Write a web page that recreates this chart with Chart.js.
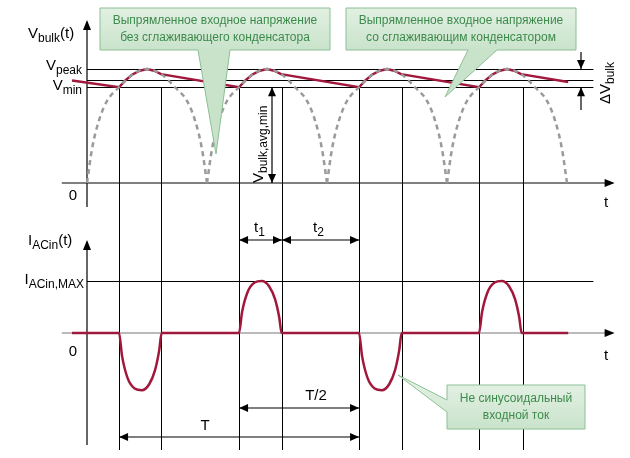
<!DOCTYPE html>
<html><head><meta charset="utf-8">
<script src="https://cdn.jsdelivr.net/npm/chart.js@4.4.1/dist/chart.umd.min.js"></script>
<style>html,body{margin:0;background:#fff}#wrap{width:630px;height:458px}</style>
</head><body><div id="wrap"><canvas id="c"></canvas></div>
<script>
// time in ms (50 Hz mains, half period 10 ms)
const archStarts = [0, 10, 20, 30];
// one rectified half-wave
const archT = [0, 0.42, 1, 1.67, 2.67, 3.75, 5, 6.25, 7.33, 8.33, 9, 9.58, 10];
const archV = [0, 0.3, 0.55, 0.72, 0.84, 0.95, 1, 0.95, 0.84, 0.72, 0.55, 0.3, 0];
// charging part of the smoothed voltage (relative to each half-period)
const chargeT = [2.67, 3.2, 3.75, 4.4, 5, 5.6, 6.17];
const chargeV = [0.84, 0.9, 0.95, 0.985, 1, 0.985, 0.955];
const vStart = { t: -1.25, v: 0.9 };
const vEnd = { t: 40.1, v: 0.886 };
// input current pulse
const pulseT = [0, 0.25, 0.7, 1.3, 1.9, 2.5, 3.0, 3.35, 3.55];
const pulseV = [0, 0.4, 0.78, 0.97, 1, 0.9, 0.65, 0.3, 0];
const pulseStarts = [2.67, 12.67, 22.67, 32.67];
const pulseSign = [-1.1, 1, -1.1, 1];
const iStart = -1.25, iEnd = 40.1;
const vMinLevel = 0.84, vMidLevel = 0.9;
const gridTimes = [2.67, 6.17, 12.67, 16.25, 22.67, 26.25, 32.67, 36.33];

const RED = '#a0183c', GREY = '#9a9a9a';
const datasets = [];
archStarts.forEach(s => datasets.push({
  yAxisID: 'yV', data: archT.map((t, i) => ({ x: s + t, y: archV[i] })),
  borderColor: GREY, borderDash: [5, 4], borderWidth: 2.5, cubicInterpolationMode: 'monotone', pointRadius: 0
}));
const vData = [{ x: vStart.t, y: vStart.v }];
archStarts.forEach(s => chargeT.forEach((t, i) => vData.push({ x: s + t, y: chargeV[i] })));
vData.push({ x: vEnd.t, y: vEnd.v });
datasets.push({ yAxisID: 'yV', data: vData, borderColor: RED, borderWidth: 2.5, tension: 0, pointRadius: 0 });
const iData = [{ x: iStart, y: 0 }];
pulseStarts.forEach((s, k) => pulseT.forEach((t, i) => iData.push({ x: s + t, y: pulseV[i] * pulseSign[k] })));
iData.push({ x: iEnd, y: 0 });
datasets.push({ yAxisID: 'yI', data: iData, borderColor: RED, borderWidth: 2.5, cubicInterpolationMode: 'monotone', pointRadius: 0 });

function sub(ctx, x, y, main, s, size, align) {
  ctx.font = size + 'px "Liberation Sans", Arial';
  const w1 = ctx.measureText(main).width;
  ctx.font = Math.round(size * 0.8) + 'px "Liberation Sans", Arial';
  const w2 = ctx.measureText(s).width;
  let x0 = align === 'right' ? x - w1 - w2 : x;
  ctx.textAlign = 'left'; ctx.textBaseline = 'alphabetic';
  ctx.font = size + 'px "Liberation Sans", Arial';
  ctx.fillText(main, x0, y);
  ctx.font = Math.round(size * 0.8) + 'px "Liberation Sans", Arial';
  ctx.fillText(s, x0 + w1, y + size * 0.28);
  return x0 + w1 + w2;
}
function arrowHead(ctx, x, y, dx, dy, len = 9, w = 4) {
  const n = Math.hypot(dx, dy); dx /= n; dy /= n;
  ctx.beginPath(); ctx.moveTo(x, y);
  ctx.lineTo(x - dx * len - dy * w, y - dy * len + dx * w);
  ctx.lineTo(x - dx * len + dy * w, y - dy * len - dx * w);
  ctx.closePath(); ctx.fill();
}
function dimArrow(ctx, x1, x2, y) {
  ctx.beginPath(); ctx.moveTo(x1, y); ctx.lineTo(x2, y); ctx.stroke();
  arrowHead(ctx, x1, y, -1, 0); arrowHead(ctx, x2, y, 1, 0);
}
function callout(ctx, x, y, w, h, px, py, bx1, bx2, lines) {
  const g = ctx.createLinearGradient(0, y, 0, y + h);
  g.addColorStop(0, '#e2f0e2'); g.addColorStop(1, '#c9e3cb');
  ctx.fillStyle = g; ctx.strokeStyle = '#8cbf94'; ctx.lineWidth = 1;
  ctx.beginPath();
  ctx.moveTo(x, y); ctx.lineTo(x + w, y); ctx.lineTo(x + w, y + h);
  if (py > y + h) { ctx.lineTo(bx2, y + h); ctx.lineTo(px, py); ctx.lineTo(bx1, y + h); ctx.lineTo(x, y + h); ctx.closePath(); }
  else { ctx.lineTo(x, y + h); ctx.lineTo(x, bx2); ctx.lineTo(px, py); ctx.lineTo(x, bx1); ctx.closePath(); }
  ctx.fill(); ctx.stroke();
  ctx.fillStyle = '#3d8a4c'; ctx.font = '12px "Liberation Sans", Arial'; ctx.textAlign = 'center'; ctx.textBaseline = 'middle';
  lines.forEach((l, i) => ctx.fillText(l, x + w / 2, y + h / 2 + (i - (lines.length - 1) / 2) * 17));
}

const overlay = {
  id: 'overlay',
  beforeDatasetsDraw(chart) {
    const ctx = chart.ctx, X = chart.scales.x, V = chart.scales.yV, I = chart.scales.yI;
    ctx.save(); ctx.strokeStyle = '#000'; ctx.lineWidth = 1;
    const xa = X.getPixelForValue(0), xr = X.getPixelForValue(42.2);
    [1, vMidLevel, vMinLevel].forEach(v => { const y = Math.round(V.getPixelForValue(v)) + 0.5; ctx.beginPath(); ctx.moveTo(xa, y); ctx.lineTo(xr, y); ctx.stroke(); });
    const yIm = Math.round(I.getPixelForValue(1)) + 0.5;
    ctx.beginPath(); ctx.moveTo(xa, yIm); ctx.lineTo(xr, yIm); ctx.stroke();
    const yTop = V.getPixelForValue(vMinLevel);
    gridTimes.forEach(t => { const x = Math.round(X.getPixelForValue(t)) + 0.5; ctx.beginPath(); ctx.moveTo(x, yTop); ctx.lineTo(x, 450); ctx.stroke(); });
    // axes
    ctx.strokeStyle = '#000'; ctx.fillStyle = '#000'; ctx.lineWidth = 1.2;
    const xl = X.getPixelForValue(-2.1), xe = X.getPixelForValue(43.8);
    const y0 = V.getPixelForValue(0);
    ctx.beginPath(); ctx.moveTo(xl, y0); ctx.lineTo(xe, y0); ctx.stroke(); arrowHead(ctx, xe + 2, y0, 1, 0, 10, 4);
    ctx.beginPath(); ctx.moveTo(xa, 207); ctx.lineTo(xa, 22); ctx.stroke(); arrowHead(ctx, xa, 20, 0, -1, 10, 4);
    const yi0 = I.getPixelForValue(0);
    ctx.strokeStyle = '#777';
    ctx.beginPath(); ctx.moveTo(xl, yi0); ctx.lineTo(xe, yi0); ctx.stroke(); ctx.fillStyle = '#000'; arrowHead(ctx, xe + 2, yi0, 1, 0, 10, 4);
    ctx.strokeStyle = '#000';
    ctx.beginPath(); ctx.moveTo(xa, 445); ctx.lineTo(xa, 242); ctx.stroke(); arrowHead(ctx, xa, 240, 0, -1, 10, 4);
    ctx.restore();
  },
  afterDatasetsDraw(chart) {
    const ctx = chart.ctx, X = chart.scales.x, V = chart.scales.yV;
    ctx.save(); ctx.fillStyle = '#000'; ctx.strokeStyle = '#000'; ctx.lineWidth = 1.2;
    const px = t => X.getPixelForValue(t);
    // labels
    const e = sub(ctx, 28, 38, 'V', 'bulk', 15); ctx.font = '15px "Liberation Sans", Arial'; ctx.fillText('(t)', e, 38);
    sub(ctx, 82, 70, 'V', 'peak', 15, 'right');
    sub(ctx, 82, 90, 'V', 'min', 15, 'right');
    ctx.font = '15px "Liberation Sans", Arial'; ctx.textAlign = 'center';
    ctx.fillText('0', 73, 200); ctx.fillText('t', 606, 207); ctx.fillText('0', 73, 356); ctx.fillText('t', 606, 360);
    const e2 = sub(ctx, 28, 245, 'I', 'ACin', 15); ctx.font = '15px "Liberation Sans", Arial'; ctx.textAlign = 'left'; ctx.fillText('(t)', e2, 245);
    sub(ctx, 84, 284, 'I', 'ACin,MAX', 15, 'right');
    // dimension arrows
    dimArrow(ctx, px(12.67), px(16.25), 240); dimArrow(ctx, px(16.25), px(22.67), 240);
    dimArrow(ctx, px(12.67), px(22.67), 408); dimArrow(ctx, px(2.67), px(22.67), 437);
    sub(ctx, 254, 232, 't', '1', 15); sub(ctx, 313, 232, 't', '2', 15);
    ctx.font = '15px "Liberation Sans", Arial'; ctx.textAlign = 'center';
    ctx.fillText('T/2', 316, 400); ctx.fillText('T', 205, 430);
    // Vbulk,avg,min
    const xv = 272, ya = V.getPixelForValue(vMinLevel), yb = V.getPixelForValue(0);
    ctx.beginPath(); ctx.moveTo(xv, ya); ctx.lineTo(xv, yb); ctx.stroke();
    arrowHead(ctx, xv, ya, 0, -1); arrowHead(ctx, xv, yb, 0, 1);
    ctx.save(); ctx.translate(263, 183); ctx.rotate(-Math.PI / 2); sub(ctx, 0, 0, 'V', 'bulk,avg,min', 15); ctx.restore();
    // delta Vbulk
    const xd = 581, yp = V.getPixelForValue(1), ym = V.getPixelForValue(vMinLevel);
    ctx.beginPath(); ctx.moveTo(xd, 52); ctx.lineTo(xd, yp); ctx.stroke(); arrowHead(ctx, xd, yp, 0, 1);
    ctx.beginPath(); ctx.moveTo(xd, 110); ctx.lineTo(xd, ym); ctx.stroke(); arrowHead(ctx, xd, ym, 0, -1);
    ctx.save(); ctx.translate(610, 104); ctx.rotate(-Math.PI / 2); sub(ctx, 0, 0, '\u0394V', 'bulk', 15); ctx.restore();
    // callouts
    callout(ctx, 100, 8, 230, 42, 216, 154, 198, 230, ['Выпрямленное входное напряжение', 'без сглаживающего конденсатора']);
    callout(ctx, 346, 8, 230, 42, 445, 97, 468, 497, ['Выпрямленное входное напряжение', 'со сглаживающим конденсатором']);
    callout(ctx, 447, 385, 138, 44, 398, 375, 400, 412, ['Не синусоидальный', 'входной ток']);
    ctx.restore();
  }
};

new Chart(document.getElementById('c'), {
  type: 'line',
  data: { datasets },
  plugins: [overlay],
  options: {
    responsive: true, maintainAspectRatio: false, animation: false,
    layout: { padding: 0 },
    plugins: { legend: { display: false }, tooltip: { enabled: false } },
    scales: {
      x: { type: 'linear', display: false, min: -87 / 12, max: (630 - 87) / 12 },
      yV: { display: false, min: -275 / 114, max: 183 / 114 },
      yI: { display: false, min: -125 / 52, max: 333 / 52 }
    }
  }
});
</script></body></html>
